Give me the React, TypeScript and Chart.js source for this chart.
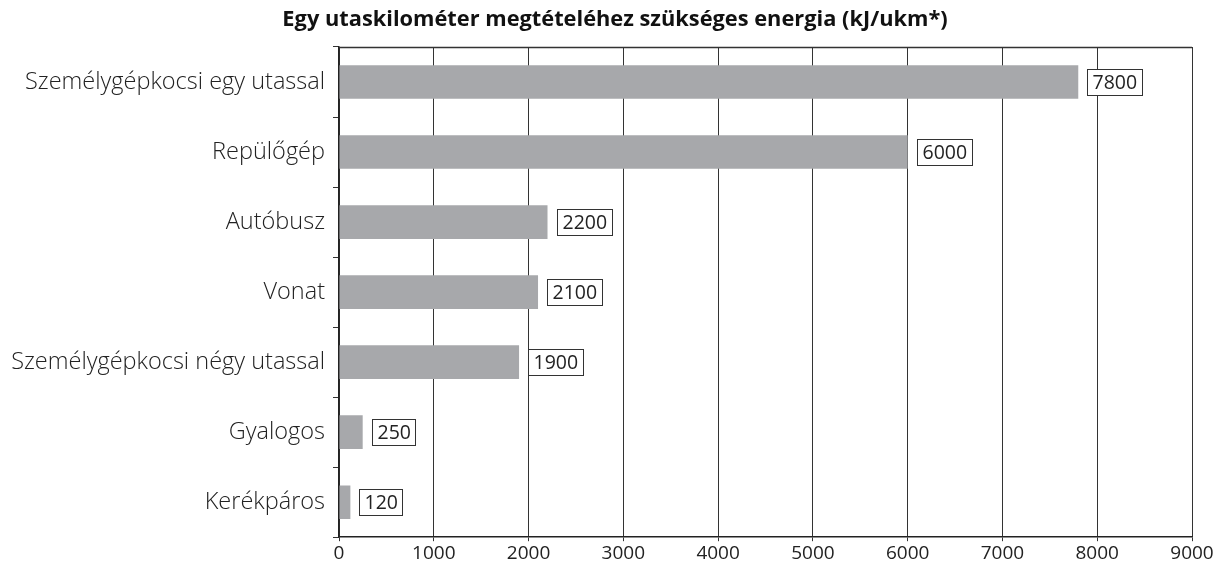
import React, { useEffect, useRef } from "react";
import { Chart, registerables } from "chart.js";

Chart.register(...registerables);

const titleText = "Egy utaskilométer megtételéhez szükséges energia (kJ/ukm*)";
const categories = [
  "Személygépkocsi egy utassal",
  "Repülőgép",
  "Autóbusz",
  "Vonat",
  "Személygépkocsi négy utassal",
  "Gyalogos",
  "Kerékpáros",
];
const values = [7800, 6000, 2200, 2100, 1900, 250, 120];
const xMin = 0;
const xMax = 9000;
const xStep = 1000;

const FONT = "'Open Sans', 'Noto Sans', sans-serif";

const boxLabels = {
  id: "boxLabels",
  afterDatasetsDraw(chart: any) {
    const ctx = chart.ctx;
    const meta = chart.getDatasetMeta(0);
    ctx.save();
    ctx.font = `19.5px ${FONT}`;
    ctx.textBaseline = "middle";
    ctx.textAlign = "left";
    meta.data.forEach((bar: any, i: number) => {
      const txt = String(values[i]);
      const w = ctx.measureText(txt).width;
      const x0 = Math.round(bar.x + 9) + 0.5;
      const h = 26;
      const y0 = Math.round(bar.y - h / 2) + 0.5;
      const bw = Math.round(w + 10);
      ctx.fillStyle = "#ffffff";
      ctx.fillRect(x0, y0, bw, h);
      ctx.strokeStyle = "#333333";
      ctx.lineWidth = 1;
      ctx.strokeRect(x0, y0, bw, h);
      ctx.fillStyle = "#222222";
      ctx.fillText(txt, x0 + 5, bar.y + 1);
    });
    ctx.restore();
  },
};

const topBorderAndTitle = {
  id: "topBorderAndTitle",
  afterDraw(chart: any) {
    const { ctx, chartArea } = chart;
    ctx.save();
    ctx.strokeStyle = "#333333";
    ctx.lineWidth = 1.5;
    ctx.beginPath();
    ctx.moveTo(chartArea.left, chartArea.top + 0.5);
    ctx.lineTo(chartArea.right, chartArea.top + 0.5);
    ctx.stroke();
    ctx.fillStyle = "#111111";
    ctx.font = `bold 21.8px ${FONT}`;
    ctx.textAlign = "center";
    ctx.textBaseline = "middle";
    ctx.fillText(titleText, 615, 20);
    ctx.restore();
  },
};

export default function App() {
  const ref = useRef<HTMLCanvasElement>(null);
  useEffect(() => {
    document.body.style.margin = "0";
    const chart = new Chart(ref.current!, {
      type: "bar",
      data: {
        labels: categories,
        datasets: [
          {
            data: values,
            backgroundColor: "#a7a8ab",
            borderWidth: 0,
            barPercentage: 0.48,
            categoryPercentage: 1,
          },
        ],
      },
      options: {
        indexAxis: "y",
        animation: false,
        responsive: false,
        maintainAspectRatio: false,
        layout: { padding: { left: 0, right: 31, top: 47, bottom: 0 } },
        plugins: {
          legend: { display: false },
          tooltip: { enabled: false },
          title: { display: false },
        },
        scales: {
          x: {
            min: xMin,
            max: xMax,
            ticks: {
              stepSize: xStep,
              color: "#222222",
              font: { family: FONT, size: 19 },
              padding: 1,
              callback: (v: any) => String(v),
            },
            grid: {
              color: "#333333",
              lineWidth: 1,
              drawTicks: true,
              tickLength: 4,
              tickColor: "#333333",
            },
            border: { color: "#222222", width: 1.5 },
          },
          y: {
            afterFit(scale: any) {
              scale.width = 339;
            },
            ticks: {
              color: "#222222",
              font: { family: FONT, size: 23.5, weight: 300 },
              padding: 8,
            },
            grid: {
              drawOnChartArea: false,
              drawTicks: true,
              tickLength: 6,
              offset: true,
              tickColor: "#333333",
            },
            border: { color: "#222222", width: 1.5 },
          },
        },
      },
      plugins: [boxLabels, topBorderAndTitle],
    });
    return () => chart.destroy();
  }, []);
  return (
    <div style={{ width: 1223, height: 566 }}>
      <canvas ref={ref} width={1223} height={566} style={{ display: "block" }} />
    </div>
  );
}
